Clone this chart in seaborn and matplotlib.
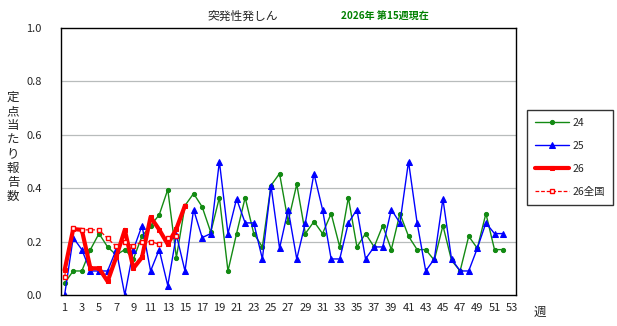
import numpy as np
import pandas as pd
import matplotlib
matplotlib.use("Agg")
import matplotlib.pyplot as plt
import seaborn as sns

weeks = list(range(1, 53))
s24 = [0.045, 0.09, 0.09, 0.17, 0.23, 0.18, 0.15, 0.17, 0.135, 0.22,
       0.26, 0.30, 0.395, 0.14, 0.335, 0.38, 0.33, 0.235, 0.365, 0.09,
       0.23, 0.365, 0.23, 0.18, 0.41, 0.455, 0.275, 0.415, 0.23, 0.275,
       0.23, 0.305, 0.18, 0.365, 0.18, 0.23, 0.18, 0.26, 0.17, 0.305,
       0.22, 0.17, 0.17, 0.13, 0.26, 0.13, 0.09, 0.22, 0.175, 0.305,
       0.17, 0.17]
s25 = [0.0, 0.215, 0.17, 0.09, 0.09, 0.09, 0.17, 0.0, 0.17, 0.26,
       0.09, 0.17, 0.035, 0.225, 0.09, 0.32, 0.215, 0.23, 0.50, 0.23,
       0.36, 0.27, 0.27, 0.135, 0.41, 0.175, 0.32, 0.135, 0.27, 0.455,
       0.32, 0.135, 0.135, 0.27, 0.32, 0.135, 0.18, 0.18, 0.32, 0.27,
       0.50, 0.27, 0.09, 0.135, 0.36, 0.135, 0.09, 0.09, 0.175, 0.27,
       0.23, 0.23]
weeks26 = list(range(1, 16))
s26 = [0.093, 0.247, 0.244, 0.10, 0.10, 0.051, 0.142, 0.244, 0.10, 0.141,
       0.292, 0.245, 0.19, 0.248, 0.335]
s26n = [0.068, 0.25, 0.244, 0.244, 0.244, 0.212, 0.182, 0.20, 0.182, 0.20,
        0.20, 0.19, 0.212, 0.22]
weeks26n = list(range(1, 15))

sns.set_theme(style="white")
plt.rcParams['font.family'] = ['Noto Sans CJK JP', 'DejaVu Sans']

fig = plt.figure(figsize=(6.17, 3.26), dpi=100)
ax = fig.add_axes([61/617, 1-295/326, (516-61)/617, (295-28)/326])

green = "#138a13"
blue = "#0000ff"
red = "#ff0000"

sns.lineplot(x=weeks, y=s24, ax=ax, color=green, lw=1.0, marker="o",
             markersize=3.0, markeredgecolor=green, label="24")
sns.lineplot(x=weeks, y=s25, ax=ax, color=blue, lw=1.0, marker="^",
             markersize=4.5, markeredgecolor=blue, label="25")
sns.lineplot(x=weeks26, y=s26, ax=ax, color=red, lw=3.0, marker="s",
             markersize=3.5, markeredgecolor=red, label="26")
sns.lineplot(x=weeks26n, y=s26n, ax=ax, color=red, lw=0.9, marker="s",
             markersize=3.2, markerfacecolor="white", markeredgecolor=red,
             markeredgewidth=1.0, linestyle=(0, (3, 1.5)), label="26全国")

ax.set_xlim(0.58, 53.5)
ax.set_ylim(0, 1.0)
ax.set_yticks([0, 0.2, 0.4, 0.6, 0.8, 1.0])
ax.set_yticklabels(["0.0", "0.2", "0.4", "0.6", "0.8", "1.0"], fontsize=8)
ax.set_xticks(weeks + [53])
ax.set_xticklabels([str(w) if w % 2 == 1 else "" for w in weeks + [53]], fontsize=8)
ax.tick_params(axis="x", direction="out", length=4, width=0.8, color="black", pad=2)
ax.tick_params(axis="y", length=0, pad=14)
for yv in [0.2, 0.4, 0.6, 0.8]:
    ax.axhline(yv, color="#b8bcbc", lw=0.9, zorder=0)
for sp in ax.spines.values():
    sp.set_color("black")
    sp.set_linewidth(1.0)
ax.set_xlabel("")
ax.set_ylabel("")

fig.text(13/617, 1-147/326, "\n".join("定点当たり報告数"), fontsize=9,
         ha="center", va="center", linespacing=1.12)
fig.text(540/617, 1-312/326, "週", fontsize=9, ha="center", va="center")
fig.text(243/617, 1-16/326, "突発性発しん", fontsize=8.5, ha="center", va="center")
fig.text(385/617, 1-16/326, "2026年 第15週現在", fontsize=7.2, ha="center",
         va="center", color="#008000", fontweight="bold")

leg = ax.legend(loc="upper left", bbox_to_anchor=(527/617, 1-110/326),
                bbox_transform=fig.transFigure, frameon=True, fancybox=False,
                fontsize=7.5, handlelength=3.3, labelspacing=1.25,
                borderpad=0.75, handletextpad=0.3, borderaxespad=0)
leg.get_frame().set_edgecolor("black")
leg.get_frame().set_linewidth(1.0)

fig.savefig("out.png", dpi=100)
